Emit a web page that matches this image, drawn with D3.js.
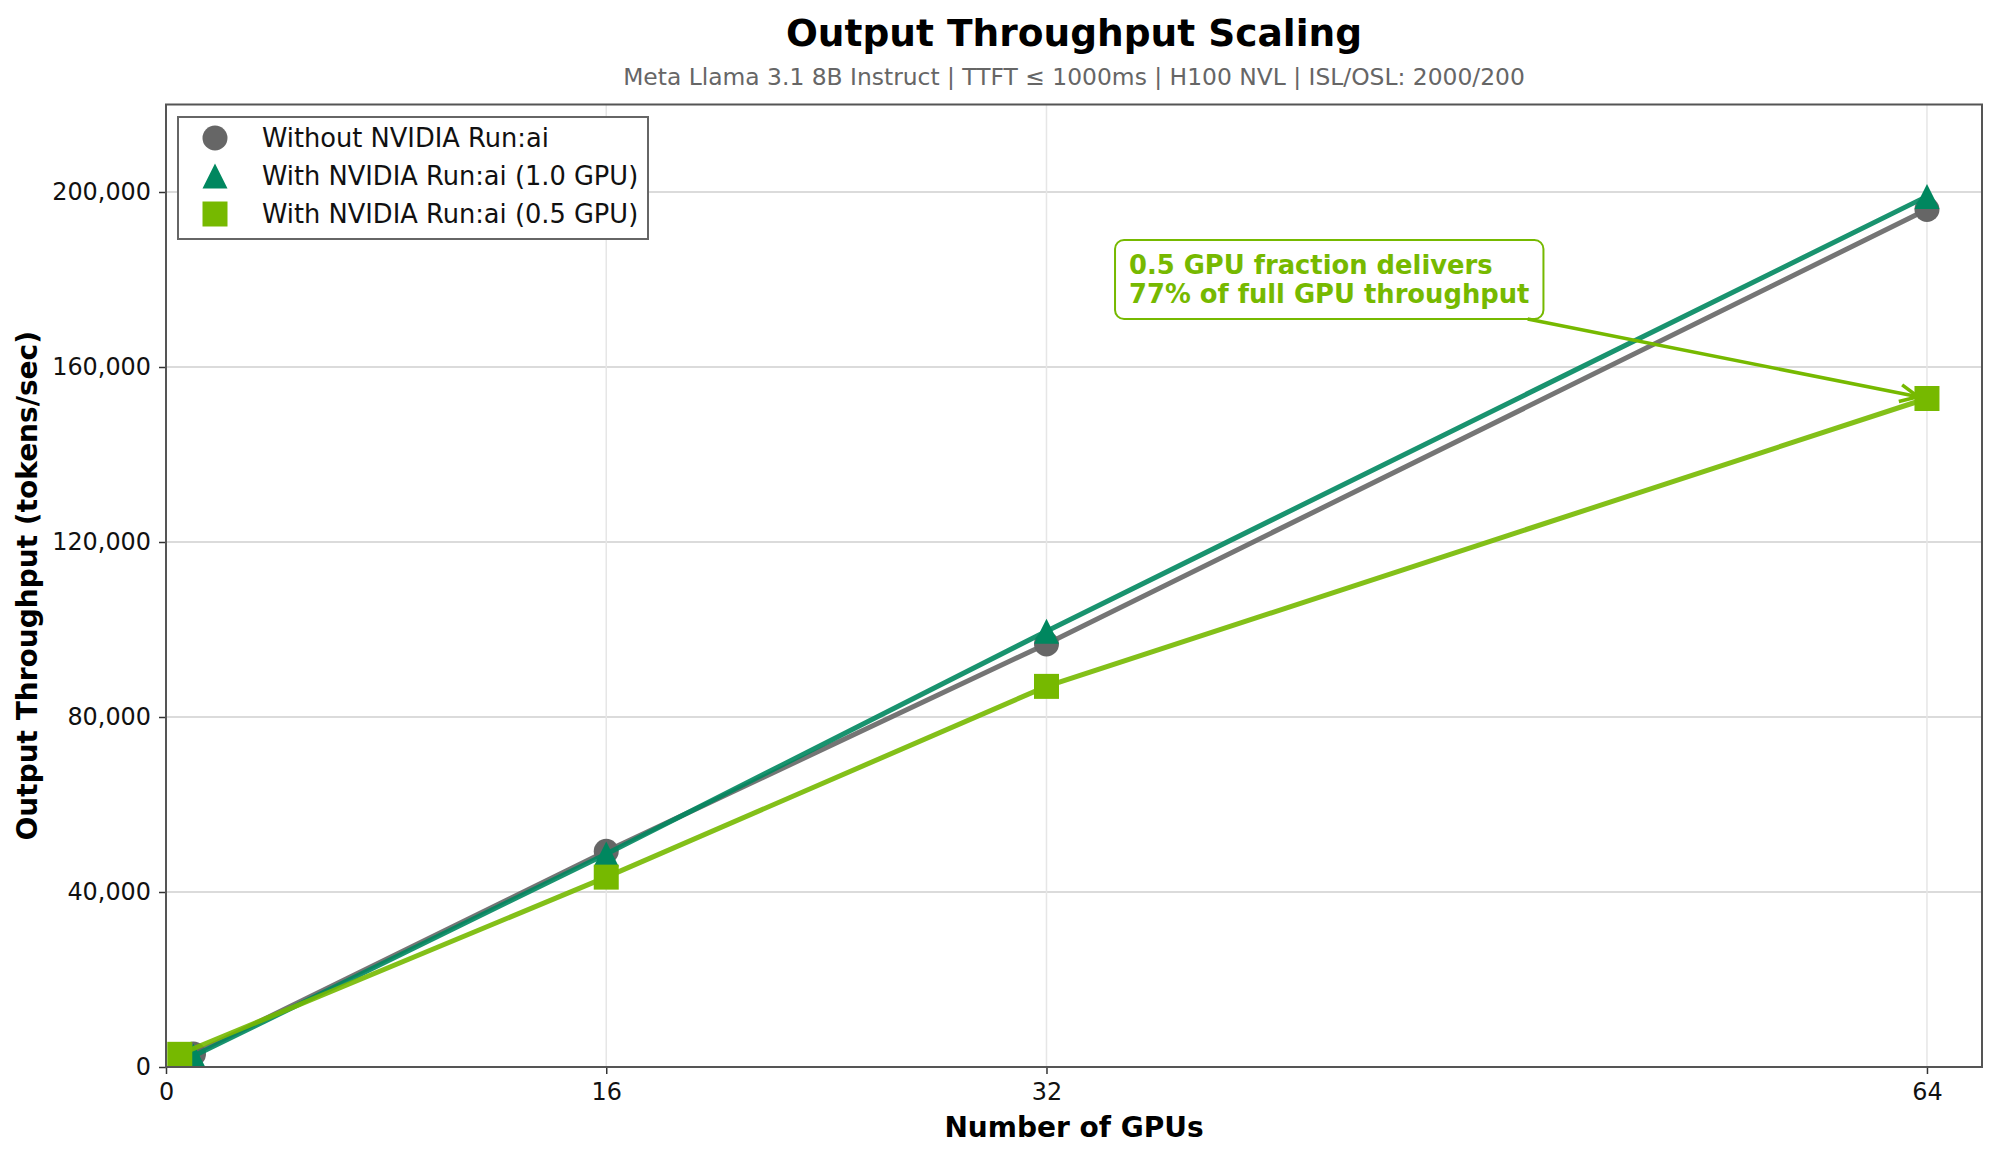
<!DOCTYPE html>
<html>
<head>
<meta charset="utf-8">
<script src="https://cdn.jsdelivr.net/npm/d3@7"></script>
<style>
  body { margin: 0; background: #fff; }
  text { font-family: "DejaVu Sans", sans-serif; }
</style>
</head>
<body>
<div id="chart"></div>
<script>
// Data
const seriesNames = ["Without NVIDIA Run:ai", "With NVIDIA Run:ai (1.0 GPU)", "With NVIDIA Run:ai (0.5 GPU)"];
const gpusWithout = [1, 16, 32, 64];
const tputWithout = [3000, 49300, 96700, 196000];
const gpusFull = [1, 16, 32, 64];
const tputFull = [2500, 48700, 99600, 199000];
const gpusHalf = [0.5, 16, 32, 64];
const tputHalf = [2900, 43400, 87000, 152800];
const xTicks = [0, 16, 32, 64];
const yTicks = [0, 40000, 80000, 120000, 160000, 200000];
const annoLines = ["0.5 GPU fraction delivers", "77% of full GPU throughput"];

function outputThroughputPlot() {
  const width = 1999, height = 1160;
  const margin = { top: 104.5, right: 17, bottom: 93, left: 166 };

  const colGray = "#666666", colTeal = "#00875f", colGreen = "#76b900";
  const markerSize = 25;

  const series = [
    { name: seriesNames[0], x: gpusWithout, y: tputWithout, col: colGray, shape: "circle" },
    { name: seriesNames[1], x: gpusFull, y: tputFull, col: colTeal, shape: "triangle" },
    { name: seriesNames[2], x: gpusHalf, y: tputHalf, col: colGreen, shape: "square" }
  ];

  const x = d3.scaleLinear().domain([0, 66]).range([margin.left, width - margin.right]);
  const y = d3.scaleLinear().domain([0, 220000]).range([height - margin.bottom, margin.top]);

  // marker path, matplotlib style shapes
  function markerPath(shape, s) {
    const h = s / 2;
    if (shape === "circle") return d3.arc()({ innerRadius: 0, outerRadius: h, startAngle: 0, endAngle: 2 * Math.PI });
    if (shape === "triangle") return `M0,${-h}L${h},${h}L${-h},${h}Z`;
    return `M${-h},${-h}H${h}V${h}H${-h}Z`;
  }

  const svg = d3.select("#chart").append("svg")
    .attr("width", width)
    .attr("height", height);

  svg.append("defs").append("clipPath").attr("id", "plotClip")
    .append("rect")
    .attr("x", x.range()[0]).attr("y", y.range()[1])
    .attr("width", x.range()[1] - x.range()[0])
    .attr("height", y.range()[0] - y.range()[1]);

  // Title
  const cx = (x.range()[0] + x.range()[1]) / 2;
  svg.append("text")
    .attr("x", cx).attr("y", 46)
    .attr("text-anchor", "middle")
    .style("font-size", "37.5px").style("font-weight", "bold")
    .text("Output Throughput Scaling");
  svg.append("text")
    .attr("x", cx).attr("y", 85)
    .attr("text-anchor", "middle")
    .style("font-size", "23.4px").attr("fill", "#666")
    .text("Meta Llama 3.1 8B Instruct | TTFT \u2264 1000ms | H100 NVL | ISL/OSL: 2000/200");

  // Grid
  svg.append("g").selectAll("line")
    .data(yTicks.filter(d => d > 0))
    .enter().append("line")
    .attr("x1", x.range()[0]).attr("x2", x.range()[1])
    .attr("y1", d => y(d)).attr("y2", d => y(d))
    .attr("stroke", "#cfcfcf").attr("stroke-width", 1.5);
  svg.append("g").selectAll("line")
    .data(xTicks.filter(d => d > 0))
    .enter().append("line")
    .attr("x1", d => x(d)).attr("x2", d => x(d))
    .attr("y1", y.range()[0]).attr("y2", y.range()[1])
    .attr("stroke", "#e6e6e6").attr("stroke-width", 1.5);

  // Axes
  const xAxis = svg.append("g")
    .attr("transform", `translate(0,${y.range()[0]})`)
    .call(d3.axisBottom(x).tickValues(xTicks).tickSize(7).tickPadding(9).tickFormat(d3.format("d")));
  const yAxis = svg.append("g")
    .attr("transform", `translate(${x.range()[0]},0)`)
    .call(d3.axisLeft(y).tickValues(yTicks).tickSize(7).tickPadding(8).tickFormat(d3.format(",")));
  [xAxis, yAxis].forEach(a => {
    a.select(".domain").remove();
    a.selectAll(".tick line").attr("stroke", "#333").attr("stroke-width", 1.5);
    a.selectAll(".tick text").style("font-size", "23.9px").attr("fill", "#111")
      .style("font-family", "DejaVu Sans");
  });

  // Series
  const plot = svg.append("g").attr("clip-path", "url(#plotClip)");
  series.forEach(s => {
    const pts = s.x.map((v, i) => [v, s.y[i]]);
    const g = plot.append("g");
    g.append("path")
      .datum(pts)
      .attr("d", d3.line().x(d => x(d[0])).y(d => y(d[1])))
      .attr("fill", "none")
      .attr("stroke", s.col)
      .attr("stroke-opacity", 0.9)
      .attr("stroke-width", 5);
    g.selectAll("path.mk")
      .data(pts)
      .enter().append("path")
      .attr("class", "mk")
      .attr("transform", d => `translate(${x(d[0])},${y(d[1])})`)
      .attr("d", markerPath(s.shape, markerSize))
      .attr("fill", s.col);
  });

  // Frame
  svg.append("rect")
    .attr("x", x.range()[0]).attr("y", y.range()[1])
    .attr("width", x.range()[1] - x.range()[0])
    .attr("height", y.range()[0] - y.range()[1])
    .attr("fill", "none").attr("stroke", "#555").attr("stroke-width", 2);

  // Axis labels
  svg.append("text")
    .attr("x", cx).attr("y", 1137)
    .attr("text-anchor", "middle")
    .style("font-size", "28px").style("font-weight", "bold")
    .text("Number of GPUs");
  svg.append("text")
    .attr("transform", `translate(37,${(y.range()[0] + y.range()[1]) / 2}) rotate(-90)`)
    .attr("text-anchor", "middle")
    .style("font-size", "28px").style("font-weight", "bold")
    .text("Output Throughput (tokens/sec)");

  // Legend
  const leg = svg.append("g").attr("transform", "translate(178,117)");
  leg.append("rect")
    .attr("width", 470).attr("height", 122)
    .attr("fill", "#fff").attr("stroke", "#666").attr("stroke-width", 2);
  series.forEach((s, i) => {
    const rowY = 21 + i * 38;
    leg.append("path")
      .attr("transform", `translate(37,${rowY})`)
      .attr("d", markerPath(s.shape, markerSize))
      .attr("fill", s.col);
    leg.append("text")
      .attr("x", 84).attr("y", rowY + 9)
      .style("font-size", "25.7px").attr("fill", "#111")
      .text(s.name);
  });

  // Annotation
  const ax = x(35), ay = y(180000);
  const anno = svg.append("g");
  const box = anno.append("rect");
  const txt = anno.append("text")
    .attr("fill", colGreen)
    .style("font-size", "25.8px").style("font-weight", "bold");
  txt.selectAll("tspan")
    .data(annoLines)
    .enter().append("tspan")
    .attr("x", ax)
    .attr("y", (d, i) => ay - 6 + i * 29.5)
    .text(d => d);
  const tw = d3.max(txt.selectAll("tspan").nodes(), n => n.getComputedTextLength());
  const bx0 = ax - 14, bx1 = ax + tw + 14, by0 = ay - 39.5, by1 = ay + 39.5;
  box.attr("x", bx0).attr("y", by0)
    .attr("width", bx1 - bx0).attr("height", by1 - by0)
    .attr("rx", 9).attr("ry", 9)
    .attr("fill", "#fff").attr("fill-opacity", 0.9)
    .attr("stroke", colGreen).attr("stroke-width", 2);

  // arrow from box center toward the 0.5 GPU point at 64
  const tx = x(gpusHalf[3]), ty = y(tputHalf[3]);
  const bcx = (bx0 + bx1) / 2, bcy = (by0 + by1) / 2;
  const dx = tx - bcx, dy = ty - bcy;
  const tEdge = Math.min((bx1 - bcx) / Math.abs(dx), (by1 - bcy) / Math.abs(dy));
  const sx = bcx + dx * tEdge, sy = bcy + dy * tEdge;
  const len = Math.hypot(tx - sx, ty - sy);
  const ux = (tx - sx) / len, uy = (ty - sy) / len;
  const ex = tx - ux * 9, ey = ty - uy * 9;
  const hl = 18, hw = 8.5;
  anno.append("path")
    .attr("d", `M${sx},${sy}L${ex},${ey}`)
    .attr("stroke", colGreen).attr("stroke-width", 3.5).attr("fill", "none");
  anno.append("path")
    .attr("d", `M${ex - ux * hl - uy * hw},${ey - uy * hl + ux * hw}L${ex},${ey}L${ex - ux * hl + uy * hw},${ey - uy * hl - ux * hw}`)
    .attr("stroke", colGreen).attr("stroke-width", 3.5).attr("fill", "none")
    .attr("stroke-linejoin", "miter");
}

outputThroughputPlot();
</script>
</body>
</html>
